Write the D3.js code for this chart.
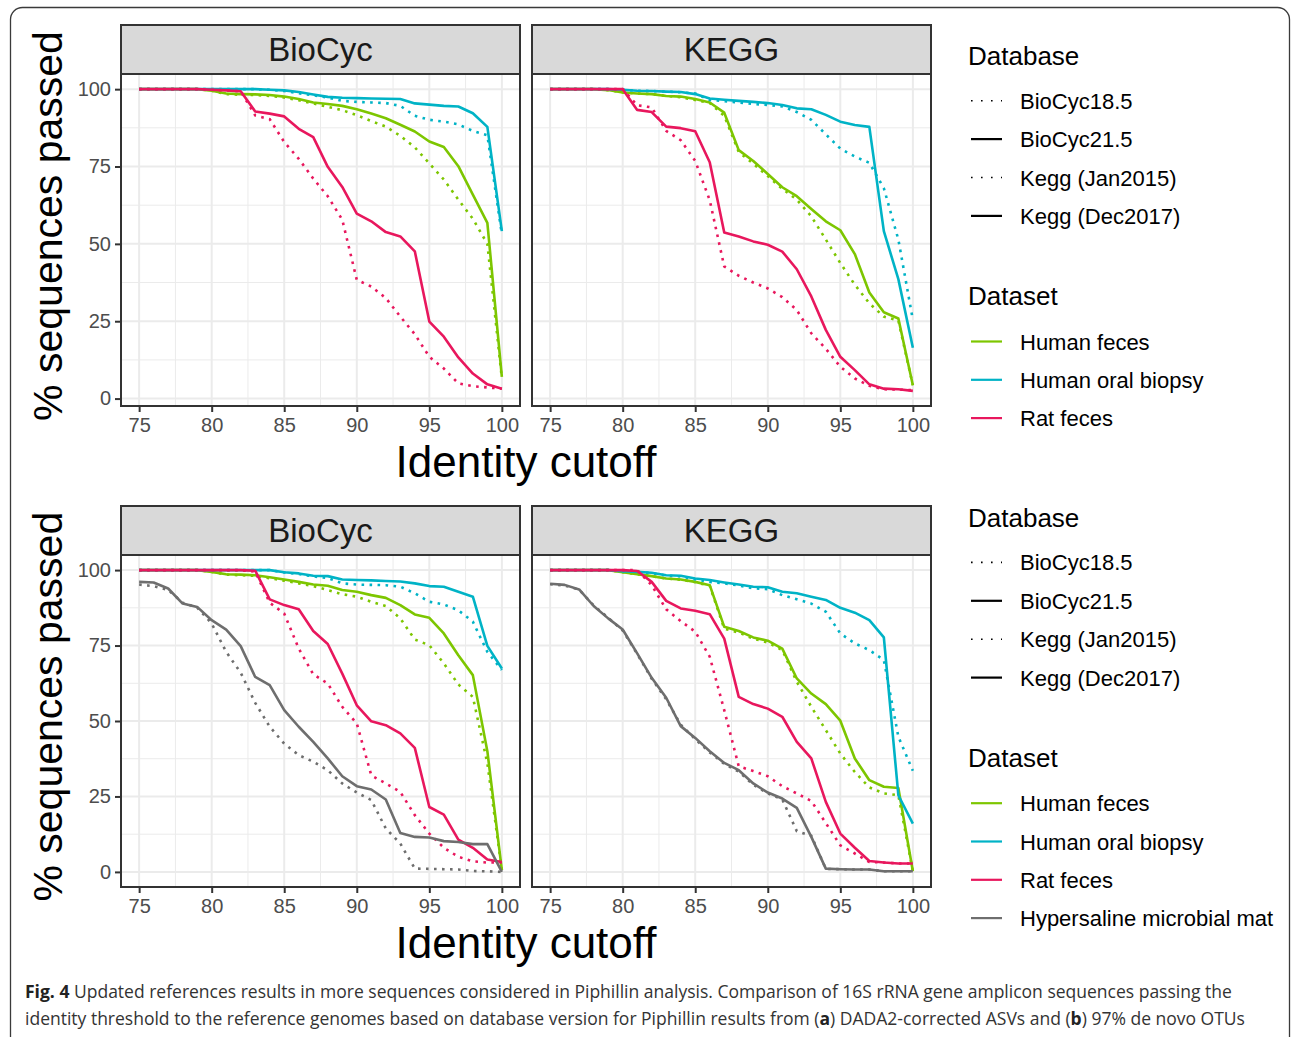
<!DOCTYPE html>
<html><head><meta charset="utf-8">
<script src="https://cdn.jsdelivr.net/npm/d3@7"></script>
<style>
body{margin:0;background:#fff;}
svg{display:block;}
</style></head>
<body>
<svg id="chart" width="1292" height="1037"></svg>
<script>
// ---------- data ----------
const identity = [75,76,77,78,79,80,81,82,83,84,85,86,87,88,89,90,91,92,93,94,95,96,97,98,99,100];
const xTicks = [75,80,85,90,95,100];
const yTicks = [0,25,50,75,100];
const facets = ["BioCyc","KEGG"];
const databaseLabels = ["BioCyc18.5","BioCyc21.5","Kegg (Jan2015)","Kegg (Dec2017)"];
const databaseDash = ["dotted","solid","dotted","solid"];
const datasetLabels = ["Human feces","Human oral biopsy","Rat feces","Hypersaline microbial mat"];
const datasetColors = ["#7DC600","#00B3C6","#E8175D","#6E6E6E"];

// (a) DADA2 ASVs — BioCyc
const a_bc_old_feces = [100,100,100,100,100,99.5,98.4,98.2,98.1,97.8,97.3,96.4,95.4,94.3,93.2,91.6,89.7,87.9,84.9,81.2,76.0,70.8,64.3,58.1,50.0,6.5];
const a_bc_new_feces = [100,100,100,100,100,99.5,98.6,98.4,98.3,98.1,97.6,96.8,95.7,95.2,94.6,93.5,92.1,90.6,88.5,86.3,83.1,81.3,75.1,65.9,56.8,7.0];
const a_bc_old_oral  = [100,100,100,100,100,100,100,100,100,99.8,99.4,98.7,98.0,97.3,96.2,95.9,95.7,95.5,94.6,91.4,90.1,89.5,88.6,86.5,85.1,53.0];
const a_bc_new_oral  = [100,100,100,100,100,100,100,100,100,99.8,99.6,99.1,98.3,97.5,97.2,97.1,97.0,96.9,96.8,95.4,95.0,94.6,94.4,92.2,87.8,54.1];
const a_bc_old_rat   = [100,100,100,100,100,99.8,99.6,99.3,91.5,90.3,82.9,77.5,71.1,65.4,57.8,38.4,36.2,32.5,26.5,20.8,13.5,9.7,4.9,4.0,3.6,3.2];
const a_bc_new_rat   = [100,100,100,100,100,99.8,99.6,99.3,92.8,92.1,91.2,87.2,84.5,74.9,68.4,59.8,57.3,53.8,52.4,47.6,24.9,20.0,13.3,8.1,4.6,3.2];
// (a) DADA2 ASVs — KEGG
const a_kg_old_feces = [100,100,100,100,99.7,98.9,98.6,98.4,97.8,97.4,96.5,95.5,91.4,79.7,75.9,71.9,67.8,64.3,58.9,51.4,43.8,36.8,30.8,26.5,25.2,4.3];
const a_kg_new_feces = [100,100,100,100,99.7,98.9,98.6,98.4,97.8,97.6,96.8,95.7,92.4,80.3,76.8,72.6,68.3,65.4,61.3,57.3,54.4,46.7,34.3,27.9,25.9,4.3];
const a_kg_old_oral  = [100,100,100,100,100,99.8,99.5,99.4,99.2,99.0,98.6,96.5,96.1,95.7,95.2,94.9,94.4,92.6,90.1,85.4,80.8,78.2,76.2,68.0,51.4,25.4];
const a_kg_new_oral  = [100,100,100,100,100,99.8,99.5,99.4,99.2,99.1,98.4,97.0,96.6,96.2,95.9,95.5,94.9,93.8,93.5,91.7,89.5,88.4,87.8,54.1,38.6,16.4];
const a_kg_old_rat   = [100,100,100,100,100,100,94.8,94.1,86.5,83.5,76.8,64.1,42.7,39.7,37.5,35.6,32.8,28.6,21.1,16.1,10.3,6.5,4.1,3.0,2.9,2.7];
const a_kg_new_rat   = [100,100,100,100,100,100,93.3,92.6,87.9,87.4,86.4,76.4,53.7,52.4,50.8,49.7,47.5,41.8,33.0,22.2,13.5,9.2,4.6,3.2,3.0,2.5];

// (b) 97% de novo OTUs — BioCyc
const b_bc_old_feces = [100,100,100,100,100,99.4,98.5,98.3,98.1,97.3,96.5,95.6,94.7,93.4,92.0,91.2,89.5,88.1,84.0,77.0,75.1,69.1,62.1,58.0,36.0,0.6];
const b_bc_new_feces = [100,100,100,100,100,99.4,98.6,98.5,98.3,97.6,96.9,96.1,95.2,94.8,93.4,92.8,91.7,90.8,88.4,85.3,84.2,79.0,71.8,65.2,40.0,0.6];
const b_bc_old_oral  = [100,100,100,100,100,100,100,100,100,100,99.2,98.7,97.9,97.4,95.6,95.2,95.1,95.0,94.5,92.3,89.5,88.6,86.7,82.9,72.9,66.9];
const b_bc_new_oral  = [100,100,100,100,100,100,100,100,100,100,99.3,98.9,98.1,98.0,96.9,96.7,96.6,96.4,96.2,95.6,94.7,94.5,92.8,91.2,74.9,67.4];
const b_bc_old_rat   = [100,100,100,100,100,100,100,100,99.5,89.2,85.6,74.0,65.5,62.4,54.7,49.2,32.0,29.3,26.5,18.8,12.7,8.0,5.0,3.5,3.1,3.1];
const b_bc_new_rat   = [100,100,100,100,100,100,100,100,99.8,90.3,88.4,87.0,79.8,75.5,65.7,55.2,49.9,48.6,45.9,41.1,21.5,19.0,10.7,8.0,4.1,3.3];
const b_bc_old_mat   = [95.2,94.7,93.4,89.2,87.6,82.3,72.9,66.0,56.0,48.1,42.5,38.7,36.5,33.7,29.3,26.3,23.8,14.4,9.4,1.1,1.0,0.9,0.8,0.3,0.2,0];
const b_bc_new_mat   = [96.1,95.9,93.9,88.9,87.8,83.4,80.3,74.8,64.6,61.9,53.6,48.1,43.1,37.6,31.7,28.4,27.3,24.0,12.9,11.6,11.4,10.2,9.9,9.2,9.2,0];
// (b) 97% de novo OTUs — KEGG
const b_kg_old_feces = [100,100,100,100,100,99.3,98.6,98.0,97.2,96.8,96.0,94.8,80.6,79.3,77.3,76.0,73.5,63.0,54.7,47.0,39.2,33.1,28.0,26.0,25.4,0.2];
const b_kg_new_feces = [100,100,100,100,100,99.3,98.6,98.0,97.2,96.9,96.1,95.0,81.2,79.8,77.7,76.6,74.0,64.1,59.1,55.6,50.1,37.6,30.4,28.2,27.8,0.2];
const b_kg_old_oral  = [100,100,100,100,100,99.6,99.4,99.0,98.2,97.9,96.9,96.1,95.6,94.9,94.0,93.7,91.7,90.3,88.9,86.2,79.0,75.7,73.5,70.2,44.8,33.5];
const b_kg_new_oral  = [100,100,100,100,100,99.6,99.4,99.1,98.3,98.1,97.2,96.7,95.9,95.2,94.5,94.3,92.8,92.3,91.2,90.1,87.5,85.9,83.4,77.7,25.4,16.0];
const b_kg_old_rat   = [100,100,100,100,100,100,100,95.0,87.0,83.1,79.6,71.3,53.6,35.0,33.4,31.7,28.4,26.0,23.5,16.2,8.8,6.1,3.3,3.1,2.8,2.8];
const b_kg_new_rat   = [100,100,100,100,100,100,99.7,96.1,89.8,87.3,86.5,85.4,77.3,58.0,55.6,54.1,51.4,43.1,37.6,23.2,12.7,8.0,3.6,3.1,2.8,2.8];
const b_kg_old_mat   = [95.3,94.9,93.5,88.3,84.2,80.0,72.2,64.0,57.2,48.8,44.0,39.6,35.8,33.2,28.9,26.0,24.0,13.5,12.0,1.0,0.9,0.8,0.8,0.2,0.2,0.2];
const b_kg_new_mat   = [95.5,95.1,93.6,88.1,84.0,80.3,72.4,64.3,57.7,48.3,44.4,40.0,36.1,33.7,29.3,26.3,24.3,21.2,11.6,1.1,0.9,0.8,0.8,0.2,0.2,0.2];

const captionLine1 = ["Fig. 4", " Updated references results in more sequences considered in Piphillin analysis. Comparison of 16S rRNA gene amplicon sequences passing the"];
const captionLine2 = ["identity threshold to the reference genomes based on database version for Piphillin results from (", "a", ") DADA2-corrected ASVs and (", "b", ") 97% de novo OTUs"];

// ---------- build ----------
const rows = [
  { stripTop:25, top:74, bottom:406, yDomain:[-2.4,104.9], nSets:3,
    panels:[
      [[a_bc_old_feces,a_bc_new_feces],[a_bc_old_oral,a_bc_new_oral],[a_bc_old_rat,a_bc_new_rat]],
      [[a_kg_old_feces,a_kg_new_feces],[a_kg_old_oral,a_kg_new_oral],[a_kg_old_rat,a_kg_new_rat]]
    ], legendTop:65 },
  { stripTop:506, top:555, bottom:887, yDomain:[-5,105], nSets:4,
    panels:[
      [[b_bc_old_feces,b_bc_new_feces],[b_bc_old_oral,b_bc_new_oral],[b_bc_old_rat,b_bc_new_rat],[b_bc_old_mat,b_bc_new_mat]],
      [[b_kg_old_feces,b_kg_new_feces],[b_kg_old_oral,b_kg_new_oral],[b_kg_old_rat,b_kg_new_rat],[b_kg_old_mat,b_kg_new_mat]]
    ], legendTop:526.7 }
];
const panelX = [[121,520],[532,931]];
const FONT = "'Liberation Sans', Arial, Helvetica, sans-serif";
const svg = d3.select("#chart");

// outer rounded frame
svg.append("rect").attr("x",10.5).attr("y",7.5).attr("width",1279).attr("height",1045)
  .attr("rx",12).attr("fill","none").attr("stroke","#3a3a3a").attr("stroke-width",1.3);

const dashFor = t => t === "dotted" ? "2.6,5.4" : null;

rows.forEach((row, ri) => {
  const y = d3.scaleLinear().domain(row.yDomain).range([row.bottom, row.top]);
  row.panels.forEach((series, pi) => {
    const [x0, x1] = panelX[pi];
    const x = d3.scaleLinear().domain([73.75, 101.25]).range([x0, x1]);
    const g = svg.append("g");
    g.append("rect").attr("x",x0).attr("y",row.top).attr("width",x1-x0).attr("height",row.bottom-row.top).attr("fill","#fff");
    const minorX = xTicks.slice(0,-1).map((v,i)=> (v + xTicks[i+1])/2);
    const minorY = yTicks.slice(0,-1).map((v,i)=> (v + yTicks[i+1])/2);
    minorX.forEach(v => g.append("line").attr("x1",x(v)).attr("x2",x(v)).attr("y1",row.top).attr("y2",row.bottom).attr("stroke","#ebebeb").attr("stroke-width",1));
    minorY.forEach(v => g.append("line").attr("x1",x0).attr("x2",x1).attr("y1",y(v)).attr("y2",y(v)).attr("stroke","#ebebeb").attr("stroke-width",1));
    xTicks.forEach(v => g.append("line").attr("x1",x(v)).attr("x2",x(v)).attr("y1",row.top).attr("y2",row.bottom).attr("stroke","#ebebeb").attr("stroke-width",2));
    yTicks.forEach(v => g.append("line").attr("x1",x0).attr("x2",x1).attr("y1",y(v)).attr("y2",y(v)).attr("stroke","#ebebeb").attr("stroke-width",2));

    const line = d3.line().x((d,i)=>x(identity[i])).y(d=>y(d));
    series.forEach((pair, si) => {
      g.append("path").datum(pair[0]).attr("d",line).attr("fill","none")
        .attr("stroke",datasetColors[si]).attr("stroke-width",2.6)
        .attr("stroke-dasharray",dashFor("dotted"));
      g.append("path").datum(pair[1]).attr("d",line).attr("fill","none")
        .attr("stroke",datasetColors[si]).attr("stroke-width",2.6)
        .attr("stroke-linejoin","round");
    });

    g.append("rect").attr("x",x0).attr("y",row.top).attr("width",x1-x0).attr("height",row.bottom-row.top)
      .attr("fill","none").attr("stroke","#333").attr("stroke-width",2);
    g.append("rect").attr("x",x0).attr("y",row.stripTop).attr("width",x1-x0).attr("height",row.top-row.stripTop)
      .attr("fill","#d9d9d9").attr("stroke","#333").attr("stroke-width",2);
    g.append("text").attr("x",(x0+x1)/2).attr("y",(row.stripTop+row.top)/2+11.8)
      .attr("text-anchor","middle").attr("font-family",FONT).attr("font-size",33).attr("fill","#1a1a1a")
      .text(facets[pi]);

    const xa = g.append("g").attr("transform",`translate(0,${row.bottom})`)
      .call(d3.axisBottom(x).tickValues(xTicks).tickSize(6).tickPadding(6));
    xa.select(".domain").remove();
    xa.selectAll("line").attr("stroke","#333").attr("stroke-width",2);
    xa.selectAll("text").attr("font-family",FONT).attr("font-size",20).attr("fill","#4d4d4d");

    if (pi === 0) {
      const ya = g.append("g").attr("transform",`translate(${x0},0)`)
        .call(d3.axisLeft(y).tickValues(yTicks).tickSize(6).tickPadding(4));
      ya.select(".domain").remove();
      ya.selectAll("line").attr("stroke","#333").attr("stroke-width",2);
      ya.selectAll("text").attr("font-family",FONT).attr("font-size",20).attr("fill","#4d4d4d");
    }
  });

  const midY = ri === 0 ? 226 : 706.7;
  svg.append("text").attr("transform",`translate(62,${midY}) rotate(-90)`)
    .attr("text-anchor","middle").attr("font-family",FONT).attr("font-size",41).attr("fill","#000")
    .text("% sequences passed");
  svg.append("text").attr("x",526).attr("y",row.bottom+71)
    .attr("text-anchor","middle").attr("font-family",FONT).attr("font-size",44).attr("fill","#000")
    .text("Identity cutoff");

  const lt = row.legendTop;
  const lg = svg.append("g");
  lg.append("text").attr("x",968).attr("y",lt).attr("font-family",FONT).attr("font-size",26).attr("fill","#000").text("Database");
  databaseLabels.forEach((lab,i)=>{
    const ky = lt + 35.7 + i*38.4;
    lg.append("line").attr("x1",971).attr("x2",1002).attr("y1",ky).attr("y2",ky)
      .attr("stroke","#000").attr("stroke-width",databaseDash[i]==="dotted"?1.6:2.2)
      .attr("stroke-dasharray",databaseDash[i]==="dotted"?"1.6,8.4":null);
    lg.append("text").attr("x",1020).attr("y",ky+8).attr("font-family",FONT).attr("font-size",22).attr("fill","#000").text(lab);
  });
  const dt = lt + 240;
  lg.append("text").attr("x",968).attr("y",dt).attr("font-family",FONT).attr("font-size",26).attr("fill","#000").text("Dataset");
  datasetLabels.slice(0,row.nSets).forEach((lab,i)=>{
    const ky = dt + 36.5 + i*38.3;
    lg.append("line").attr("x1",971).attr("x2",1002).attr("y1",ky).attr("y2",ky)
      .attr("stroke",datasetColors[i]).attr("stroke-width",2.2);
    lg.append("text").attr("x",1020).attr("y",ky+8).attr("font-family",FONT).attr("font-size",22).attr("fill","#000").text(lab);
  });
});

// caption: each line is one text element, horizontally scaled to its target width
const CAPF = "'Open Sans', 'Noto Sans', sans-serif";
function captionLine(parts, boldIdx, yBase, targetW) {
  const g = svg.append("g");
  const t = g.append("text").attr("x",0).attr("y",0).attr("font-family",CAPF).attr("font-size",18.5).attr("fill","#333");
  parts.forEach((s,i)=>{
    const ts = t.append("tspan").text(s);
    if (boldIdx.includes(i)) ts.attr("font-weight","bold").attr("fill","#222");
  });
  const w = t.node().getComputedTextLength();
  const sx = w > 0 ? targetW / w : 1;
  g.attr("transform",`translate(25,${yBase}) scale(${sx},1)`);
}
captionLine(captionLine1, [0], 998, 1208);
captionLine(captionLine2, [1,3], 1025, 1221);
</script>
</body></html>
